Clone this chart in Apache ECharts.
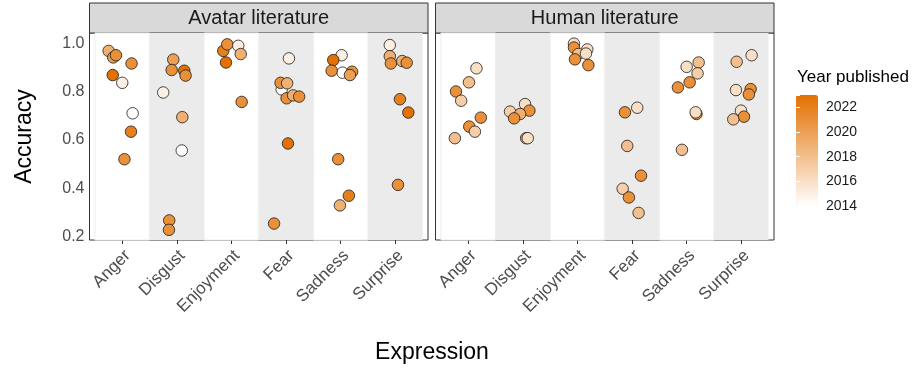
<!DOCTYPE html>
<html>
<head>
<meta charset="utf-8">
<script src="https://cdn.jsdelivr.net/npm/echarts@6/dist/echarts.min.js"></script>
<style>
  html, body { margin: 0; padding: 0; background: #fff; }
  #chart { width: 916px; height: 370px; }
</style>
</head>
<body>
<div id="chart"></div>
<script>
const categories = ['Anger', 'Disgust', 'Enjoyment', 'Fear', 'Sadness', 'Surprise'];
const yTicks = [0.2, 0.4, 0.6, 0.8, 1.0];
const shadedBands = [1, 3, 5];
const plainBands = [0, 2, 4];

// Avatar literature panel
const avatarCat = [0,0,0,0,0,0,0,0,0, 1,1,1,1,1,1,1,1,1, 2,2,2,2,2,2, 3,3,3,3,3,3,3,3,3, 4,4,4,4,4,4,4,4,4, 5,5,5,5,5,5,5,5];
const avatarJitter = [-0.25,-0.165,-0.115,0.17,-0.175,0.0,0.19,0.16,0.04,
  -0.066,-0.095,0.136,0.16,-0.25,0.1,0.09,-0.14,-0.145,
  -0.15,-0.077,0.125,0.17,-0.1,0.187,
  -0.08,0.053,-0.1,0.02,0.01,0.13,0.24,0.035,-0.22,
  0.035,0.018,-0.135,-0.165,0.21,0.17,-0.045,0.15,-0.013,
  -0.1,-0.1,-0.08,0.128,0.21,0.086,0.24,0.05];
const avatarAccuracy = [0.968,0.941,0.95,0.916,0.868,0.836,0.71,0.634,0.52,
  0.932,0.889,0.886,0.866,0.796,0.694,0.556,0.267,0.228,
  0.968,0.995,0.989,0.955,0.92,0.757,
  0.809,0.937,0.836,0.834,0.772,0.784,0.779,0.585,0.254,
  0.878,0.95,0.93,0.886,0.882,0.868,0.52,0.369,0.329,
  0.992,0.946,0.916,0.926,0.919,0.768,0.713,0.414];
const avatarYear = [2019,2020,2021,2021,2023,2015,2014,2022,2021,
  2020,2021,2023,2021,2015,2019,2014,2021,2021,
  2022,2021,2015,2019,2023,2021,
  2014,2015,2021,2019,2021,2019,2021,2023,2021,
  2014,2015,2023,2021,2021,2020,2021,2022,2019,
  2015,2019,2021,2019,2021,2022,2023,2021];

// Human literature panel
const humanCat = [0,0,0,0,0,0,0,0, 1,1,1,1,1,1,1, 2,2,2,2,2,2,2, 3,3,3,3,3,3,3, 4,4,4,4,4,4,4,4, 5,5,5,5,5,5,5,5];
const humanJitter = [0.15,0.013,-0.225,-0.13,0.23,0.018,0.122,-0.245,
  0.04,-0.235,0.12,-0.05,-0.16,0.06,0.09,
  -0.064,-0.064,0.18,0.015,0.156,-0.046,0.2,
  0.095,-0.13,-0.088,0.165,-0.172,-0.057,0.12,
  0.22,0.0,0.2,0.055,-0.16,0.18,0.165,-0.086,
  0.19,-0.084,-0.097,0.172,0.14,-0.005,0.05,-0.146];
const humanAccuracy = [0.896,0.838,0.80,0.762,0.692,0.655,0.634,0.607,
  0.748,0.717,0.721,0.707,0.689,0.607,0.607,
  0.998,0.982,0.974,0.955,0.957,0.933,0.909,
  0.733,0.714,0.575,0.452,0.398,0.362,0.298,
  0.92,0.902,0.875,0.838,0.817,0.707,0.714,0.559,
  0.95,0.923,0.806,0.81,0.788,0.721,0.696,0.685];
const humanYear = [2016,2018,2021,2017,2021,2021,2017,2018,
  2016,2017,2021,2019,2021,2019,2016,
  2016,2021,2016,2018,2016,2021,2021,
  2016,2021,2018,2021,2017,2021,2018,
  2018,2016,2017,2021,2021,2021,2016,2018,
  2016,2018,2016,2021,2021,2016,2021,2018];

const FONT = '"Liberation Sans", Arial, sans-serif';
const panels = [
  { title: 'Avatar literature', left: 89.5 },
  { title: 'Human literature', left: 435.5 }
];
const panelW = 338.5, panelTop = 33, panelH = 207;
const barTop = 95, barH = 111;

function points(cat, jit, acc, yr) {
  return cat.map((c, i) => [c + jit[i], acc[i], yr[i]]);
}

const bandAreas = [
  ...shadedBands.map(b => [{ xAxis: b - 0.5, itemStyle: { color: '#EBEBEB' } }, { xAxis: b + 0.5 }]),
  ...plainBands.map(b => [{ xAxis: b - 0.5, itemStyle: { color: '#FFFFFF', borderColor: '#EDEDED', borderWidth: 1 } }, { xAxis: b + 0.5 }])
];

// rotated labels sit a little right of their tick, like ggplot's hjust = 1
const labelShift = 0.1;
const xAxisBase = {
  type: 'value', min: -0.6, max: 5.6,
  splitLine: { show: false },
  axisLine: { show: false },
  axisTick: { show: true, length: 4, customValues: [0, 1, 2, 3, 4, 5], lineStyle: { color: '#333333' } },
  axisLabel: {
    customValues: [0, 1, 2, 3, 4, 5].map(v => v + labelShift),
    formatter: v => categories[Math.round(v)],
    rotate: 45, fontSize: 17, color: '#4D4D4D', margin: 13, fontFamily: FONT
  }
};

const chart = echarts.init(document.getElementById('chart'));
chart.setOption({
  animation: false,
  grid: [
    { left: panels[0].left, top: panelTop, width: panelW, height: panelH, show: true, borderColor: '#333333', borderWidth: 1, backgroundColor: '#fff' },
    { left: panels[1].left, top: panelTop, width: panelW, height: panelH, show: true, borderColor: '#333333', borderWidth: 1, backgroundColor: '#fff' },
    { left: 796, top: barTop, width: 22, height: barH }
  ],
  xAxis: [
    Object.assign({ gridIndex: 0 }, xAxisBase),
    Object.assign({ gridIndex: 1 }, xAxisBase),
    { gridIndex: 2, type: 'value', show: false }
  ],
  yAxis: [
    {
      gridIndex: 0, type: 'value', min: 0.186, max: 1.042,
      splitLine: { show: false }, axisLine: { show: false },
      axisTick: { show: true, length: 4, customValues: yTicks, lineStyle: { color: '#333333' } },
      axisLabel: { customValues: yTicks, formatter: v => v.toFixed(1), fontSize: 16, color: '#4D4D4D', margin: 5, fontFamily: FONT },
      name: 'Accuracy', nameLocation: 'middle', nameGap: 53,
      nameTextStyle: { fontSize: 23, color: '#000', fontFamily: FONT }
    },
    { gridIndex: 1, type: 'value', min: 0.186, max: 1.042, show: false },
    {
      gridIndex: 2, type: 'value', min: 2014, max: 2023, interval: 2, position: 'right', z: 10,
      splitLine: { show: false }, axisLine: { show: false },
      axisTick: { show: true, inside: true, length: 4, lineStyle: { color: '#FFFFFF' } },
      axisLabel: { fontSize: 14, color: '#1A1A1A', margin: 8, showMaxLabel: false, fontFamily: FONT, formatter: v => String(v) }
    },
    {
      gridIndex: 2, type: 'value', min: 2014, max: 2023, interval: 2, position: 'left', z: 10,
      splitLine: { show: false }, axisLine: { show: false },
      axisTick: { show: true, inside: true, length: 4, lineStyle: { color: '#FFFFFF' } },
      axisLabel: { show: false }
    }
  ],
  visualMap: {
    type: 'continuous', seriesIndex: [0, 1], dimension: 2,
    min: 2014, max: 2023, calculable: false,
    left: 796, top: barTop, itemWidth: 22, itemHeight: barH, padding: 0,
    inRange: { color: ['#FFFFFF', '#E37000'] }
  },
  graphic: [
    ...panels.flatMap(p => [
      { type: 'rect', shape: { x: p.left, y: 3, width: panelW, height: 30 }, style: { fill: '#D9D9D9', stroke: '#333333', lineWidth: 1 } },
      { type: 'text', x: p.left + panelW / 2, y: 18, style: { text: p.title, fontSize: 20, fill: '#1A1A1A', fontFamily: FONT, align: 'center', verticalAlign: 'middle' } }
    ]),
    { type: 'text', x: 432, y: 353, style: { text: 'Expression', fontSize: 23, fill: '#000', fontFamily: FONT, align: 'center', verticalAlign: 'middle' } },
    { type: 'text', x: 797, y: 77, style: { text: 'Year published', fontSize: 17, fill: '#000', fontFamily: FONT, align: 'left', verticalAlign: 'middle' } }
  ],
  series: [
    {
      type: 'scatter', xAxisIndex: 0, yAxisIndex: 0,
      data: points(avatarCat, avatarJitter, avatarAccuracy, avatarYear),
      symbolSize: 11.5, itemStyle: { borderColor: '#1A1A1A', borderWidth: 0.8, opacity: 1 },
      emphasis: { disabled: true },
      markArea: { silent: true, data: bandAreas }
    },
    {
      type: 'scatter', xAxisIndex: 1, yAxisIndex: 1,
      data: points(humanCat, humanJitter, humanAccuracy, humanYear),
      symbolSize: 11.5, itemStyle: { borderColor: '#1A1A1A', borderWidth: 0.8, opacity: 1 },
      emphasis: { disabled: true },
      markArea: { silent: true, data: bandAreas }
    }
  ]
});
</script>
</body>
</html>
